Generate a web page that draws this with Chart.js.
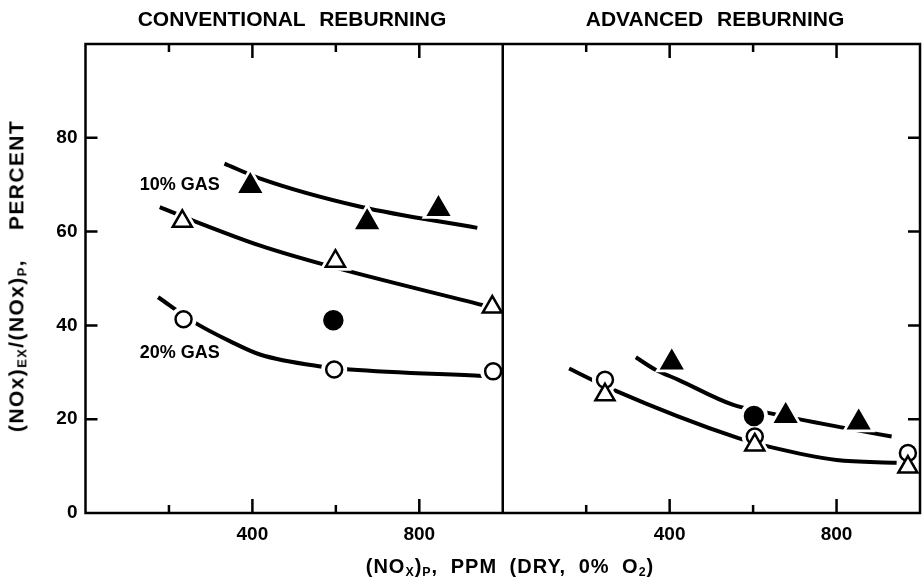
<!DOCTYPE html>
<html>
<head>
<meta charset="utf-8">
<script src="https://cdn.jsdelivr.net/npm/chart.js@4.4.1/dist/chart.umd.min.js"></script>
<style>
  body { margin: 0; background: #fff; }
  #wrap { position: relative; width: 924px; height: 586px; }
  canvas { position: absolute; left: 0; top: 0; }
  .txt { position: absolute; font-family: 'Liberation Sans', Arial, sans-serif; font-weight: bold; color: #000; white-space: nowrap; transform: translate(-50%, -50%); }
  .txt sub { font-size: 62%; vertical-align: -0.25em; }
  #t1 { left: 292px; top: 19px; font-size: 21px; word-spacing: 8px; }
  #t2 { left: 715px; top: 19px; font-size: 21px; word-spacing: 8px; }
  #xt { left: 510px; top: 567px; font-size: 20px; word-spacing: 6px; letter-spacing: 1px; }
  #yt { left: 17px; top: 276px; font-size: 21px; transform: translate(-50%, -50%) rotate(-90deg); letter-spacing: 1.4px; }
</style>
</head>
<body>
<div id="wrap">
  <canvas id="chart" width="924" height="586"></canvas>
  <div class="txt" id="t1">CONVENTIONAL REBURNING</div>
  <div class="txt" id="t2">ADVANCED REBURNING</div>
  <div class="txt" id="xt">(NO<sub>X</sub>)<sub>P</sub>, PPM (DRY, 0% O<sub>2</sub>)</div>
  <div class="txt" id="yt">(NOx)<sub>EX</sub>/(NOx)<sub>P</sub>,&nbsp;&nbsp;&nbsp;&nbsp;PERCENT</div>
</div>
<script>
// x tick labels shown in each panel
const tickLabels = [400, 800];
const yTickValues = [0, 20, 40, 60, 80];

// Conventional reburning (left panel), x = (NOx)p ppm, y = percent
const convFilledTriX = [395, 675, 846];
const convFilledTriY = [69.7, 62.0, 64.8];
const convOpenTriX = [232, 599, 975];
const convOpenTriY = [62.2, 53.7, 43.9];
const convOpenCircX = [235, 596, 977];
const convOpenCircY = [41.3, 30.6, 30.2];
const convFilledCircX = [594];
const convFilledCircY = [41.1];

// fitted curves (left)
const convCurveTopX = [333, 419, 659, 939];
const convCurveTopY = [74.5, 71.3, 65.3, 60.8];
const convCurve10X = [178, 262, 419, 570, 953];
const convCurve10Y = [65.2, 62.2, 57.0, 53.0, 44.3];
const convCurve20X = [174, 262, 347, 418, 567, 634, 952];
const convCurve20Y = [46.0, 40.6, 36.6, 33.8, 31.2, 30.6, 29.2];

// Advanced reburning (right panel)
const advOpenCircX = [245, 604, 971];
const advOpenCircY = [28.4, 16.3, 12.8];
const advOpenTriX = [245, 604, 971];
const advOpenTriY = [25.2, 14.5, 9.8];
const advFilledTriX = [405, 678, 853];
const advFilledTriY = [32.1, 20.7, 19.3];
const advFilledCircX = [602];
const advFilledCircY = [20.7];

// fitted curves (right)
const advCurveLowX = [159, 264, 563, 640, 800, 944];
const advCurveLowY = [30.8, 26.3, 16.0, 14.1, 11.3, 10.7];
const advCurveUpX = [319, 365, 421, 551, 633, 815, 932];
const advCurveUpY = [33.2, 30.6, 28.4, 23.1, 21.4, 18.2, 16.3];

// right panel sits after the left one on a shared 0..2000 axis
const PANEL_SPAN = 1000;

const FONT = "'Liberation Sans', Arial, sans-serif";

function pts(xs, ys, off) {
    return xs.map((x, i) => ({ x: x + off, y: ys[i] }));
}

function curve(xs, ys, off) {
    return {
        data: pts(xs, ys, off),
        borderColor: '#000',
        borderWidth: 4,
        pointRadius: 0,
        cubicInterpolationMode: 'monotone',
        fill: false,
        order: 3
    };
}

// a white halo first (gives the gap in the curve), then the marker itself
function markers(xs, ys, off, style, filled, r) {
    const data = pts(xs, ys, off);
    const halo = style === 'triangle' ? 8 : 5;
    return [
        {
            data: data, showLine: false, pointStyle: style,
            pointRadius: r + halo, pointBackgroundColor: '#fff', pointBorderColor: '#fff',
            pointBorderWidth: 0, order: 2
        },
        {
            data: data, showLine: false, pointStyle: style,
            pointRadius: r, pointBackgroundColor: filled ? '#000' : '#fff', pointBorderColor: '#000',
            pointBorderWidth: 2.5, order: 1
        }
    ];
}

const datasets = [
    curve(convCurveTopX, convCurveTopY, 0),
    curve(convCurve10X, convCurve10Y, 0),
    curve(convCurve20X, convCurve20Y, 0),
    curve(advCurveLowX, advCurveLowY, PANEL_SPAN),
    curve(advCurveUpX, advCurveUpY, PANEL_SPAN),
    ...markers(convFilledTriX, convFilledTriY, 0, 'triangle', true, 11.5),
    ...markers(convOpenTriX, convOpenTriY, 0, 'triangle', false, 11),
    ...markers(convOpenCircX, convOpenCircY, 0, 'circle', false, 8),
    ...markers(convFilledCircX, convFilledCircY, 0, 'circle', true, 9),
    ...markers(advOpenTriX, advOpenTriY, PANEL_SPAN, 'triangle', false, 11),
    ...markers(advOpenCircX, advOpenCircY, PANEL_SPAN, 'circle', false, 8),
    ...markers(advFilledTriX, advFilledTriY, PANEL_SPAN, 'triangle', true, 11.5),
    ...markers(advFilledCircX, advFilledCircY, PANEL_SPAN, 'circle', true, 9)
];

// frame, divider, inward tick marks and the gas labels
const framePlugin = {
    id: 'frame',
    afterDraw(chart) {
        const ctx = chart.ctx;
        const { left, right, top, bottom } = chart.chartArea;
        const xs = chart.scales.x, ys = chart.scales.y;
        ctx.save();
        ctx.strokeStyle = '#000';
        ctx.lineWidth = 2.5;
        ctx.strokeRect(left, top, right - left, bottom - top);
        const mid = xs.getPixelForValue(PANEL_SPAN);
        ctx.beginPath();
        ctx.moveTo(mid, top);
        ctx.lineTo(mid, bottom);
        ctx.stroke();

        ctx.beginPath();
        for (let v = 200; v < 2 * PANEL_SPAN; v += 200) {
            if (v === PANEL_SPAN) continue;
            const px = xs.getPixelForValue(v);
            const len = tickLabels.includes(v % PANEL_SPAN) ? 14 : 8;
            ctx.moveTo(px, bottom);
            ctx.lineTo(px, bottom - len);
            ctx.moveTo(px, top);
            ctx.lineTo(px, top + len);
        }
        yTickValues.forEach(v => {
            if (v === 0) return;
            const py = ys.getPixelForValue(v);
            ctx.moveTo(left, py);
            ctx.lineTo(left + 12, py);
            ctx.moveTo(right, py);
            ctx.lineTo(right - 12, py);
        });
        ctx.stroke();

        ctx.fillStyle = '#000';
        ctx.font = 'bold 18px ' + FONT;
        ctx.textAlign = 'left';
        ctx.textBaseline = 'middle';
        ctx.fillText('10% GAS', xs.getPixelForValue(130), ys.getPixelForValue(70));
        ctx.fillText('20% GAS', xs.getPixelForValue(130), ys.getPixelForValue(34.2));
        ctx.restore();
    }
};

new Chart(document.getElementById('chart').getContext('2d'), {
    type: 'line',
    data: { datasets: datasets },
    options: {
        responsive: false,
        animation: false,
        layout: { autoPadding: false, padding: { top: 44, right: 4, left: 0, bottom: 0 } },
        plugins: {
            legend: { display: false },
            tooltip: { enabled: false }
        },
        scales: {
            x: {
                type: 'linear',
                min: 0,
                max: 2 * PANEL_SPAN,
                afterFit: (scale) => {
                    scale.height = 73;
                    scale.paddingLeft = 0;
                    scale.paddingRight = 0;
                },
                grid: { display: false, drawTicks: false },
                border: { display: false },
                ticks: {
                    stepSize: 200,
                    autoSkip: false,
                    maxRotation: 0,
                    padding: 10,
                    color: '#000',
                    font: { family: FONT, size: 19, weight: 'bold' },
                    callback: (v) => tickLabels.includes(v % PANEL_SPAN) ? String(v % PANEL_SPAN) : ''
                }
            },
            y: {
                min: 0,
                max: 100,
                afterFit: (scale) => { scale.width = 85.5; },
                grid: { display: false, drawTicks: false },
                border: { display: false },
                ticks: {
                    stepSize: 20,
                    padding: 8,
                    color: '#000',
                    font: { family: FONT, size: 19, weight: 'bold' },
                    callback: (v) => yTickValues.includes(v) ? String(v) : ''
                }
            }
        }
    },
    plugins: [framePlugin]
});
</script>
</body>
</html>
